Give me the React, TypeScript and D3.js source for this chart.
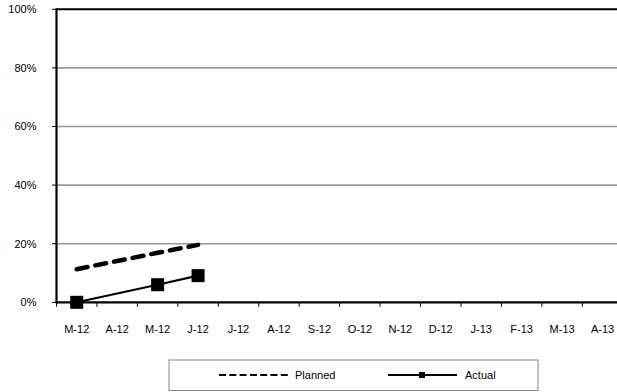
import React from "react";
import * as d3 from "d3";

const categories = ["M-12", "A-12", "M-12", "J-12", "J-12", "A-12", "S-12", "O-12", "N-12", "D-12", "J-13", "F-13", "M-13", "A-13"];
const planned: (number | null)[] = [11.3, 14.1, 16.9, 19.6];
const actual: (number | null)[] = [0, null, 6.0, 9.1];
const yTicks = [0, 20, 40, 60, 80, 100];

const W = 617;
const H = 392;
const left = 56.5;
const step = 40.45;
const top = 9.3;
const bottom = 302.3;

export default function App() {
  const x = d3
    .scaleBand<number>()
    .domain(categories.map((_, i) => i))
    .range([left, left + step * categories.length])
    .paddingInner(0)
    .paddingOuter(0);
  const y = d3.scaleLinear().domain([0, 100]).range([bottom, top]);
  const cx = (i: number) => (x(i) as number) + x.bandwidth() / 2;

  const plannedPts = planned
    .map((v, i) => (v == null ? null : ([cx(i), y(v)] as [number, number])))
    .filter((p): p is [number, number] => p != null);
  const actualPts = actual
    .map((v, i) => (v == null ? null : ([cx(i), y(v)] as [number, number])))
    .filter((p): p is [number, number] => p != null);
  const line = d3.line<[number, number]>();
  const font = "'Liberation Sans', Arial, sans-serif";
  const tickEdges = d3.range(categories.length + 1).map((i) => left + i * step);

  return (
    <svg width={W} height={H} style={{ position: "absolute", left: 0, top: 0, background: "#fff" }} fontFamily={font}>
      <rect x={0} y={0} width={W} height={H} fill="#fff" />
      {/* gridlines */}
      {yTicks.filter((t) => t > 0 && t < 100).map((t) => (
        <line key={t} x1={left} x2={W} y1={y(t)} y2={y(t)} stroke="#999" strokeWidth={1.6} />
      ))}
      <line x1={left} x2={W} y1={y(100)} y2={y(100)} stroke="#000" strokeWidth={2} />
      {/* y ticks and labels */}
      {yTicks.map((t) => (
        <g key={"yt" + t}>
          <line x1={52} x2={left} y1={y(t)} y2={y(t)} stroke="#000" strokeWidth={1} />
          <text x={36.5} y={y(t)} dy="0.35em" textAnchor="end" fontSize={11} fill="#000">
            {t}%
          </text>
        </g>
      ))}
      {/* x ticks */}
      {tickEdges.map((e, i) => (
        <line key={"xt" + i} x1={e} x2={e} y1={bottom} y2={bottom + 4.5} stroke="#000" strokeWidth={1} />
      ))}
      {categories.map((c, i) => (
        <text key={"xl" + i} x={cx(i)} y={329} dy="0.35em" textAnchor="middle" fontSize={11} fill="#000">
          {c}
        </text>
      ))}
      {/* axes */}
      <line x1={left} x2={left} y1={top - 1} y2={bottom + 1} stroke="#000" strokeWidth={2.2} />
      <line x1={left} x2={W} y1={bottom} y2={bottom} stroke="#000" strokeWidth={2.2} />
      {/* planned */}
      <path d={line(plannedPts) || ""} fill="none" stroke="#000" strokeWidth={4.5} strokeDasharray="11 8" strokeLinecap="round" />
      {/* actual */}
      <path d={line(actualPts) || ""} fill="none" stroke="#000" strokeWidth={2.2} />
      {actualPts.map((p, i) => (
        <rect key={"m" + i} x={p[0] - 6.5} y={p[1] - 6.5} width={13} height={13} fill="#000" />
      ))}
      {/* legend */}
      <rect x={169} y={360} width={369} height={30.5} fill="#fff" stroke="#888" strokeWidth={1} />
      <line x1={219} x2={288} y1={375} y2={375} stroke="#000" strokeWidth={2.2} strokeDasharray="7 3.3" />
      <text x={295} y={375} dy="0.35em" fontSize={11} fill="#000">Planned</text>
      <line x1={388} x2={457} y1={375} y2={375} stroke="#000" strokeWidth={2} />
      <rect x={419} y={372} width={6} height={6} fill="#000" />
      <text x={465} y={375} dy="0.35em" fontSize={11} fill="#000">Actual</text>
    </svg>
  );
}
